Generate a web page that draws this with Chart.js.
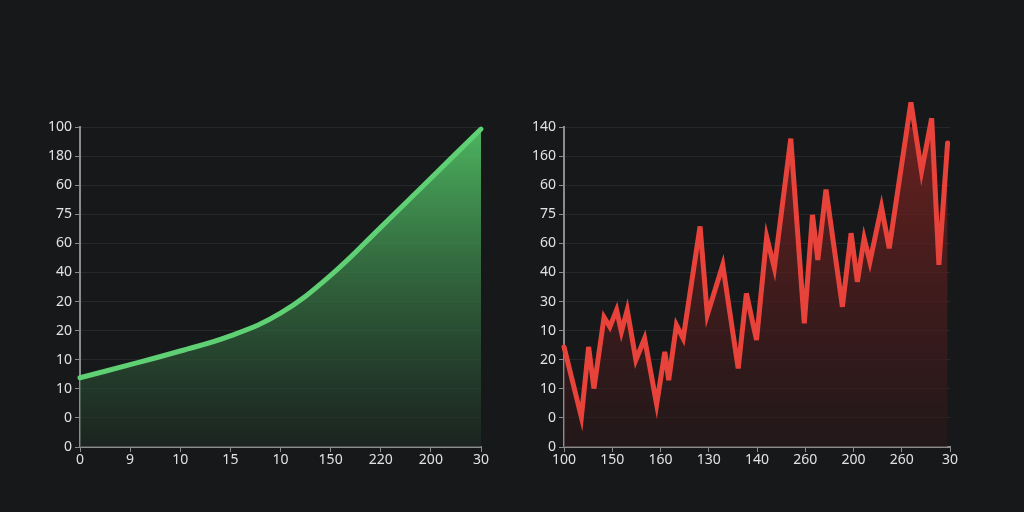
<!DOCTYPE html>
<html>
<head>
<meta charset="utf-8">
<script src="https://cdn.jsdelivr.net/npm/chart.js@4/dist/chart.umd.min.js"></script>
<style>
  html, body { margin: 0; padding: 0; background: #17181a; }
  #wrap { position: relative; width: 1024px; height: 512px; overflow: hidden; }
  canvas { position: absolute; top: 0; }
</style>
</head>
<body>
<div id="wrap">
  <canvas id="leftcanvas" width="512" height="512" style="left:0"></canvas>
  <canvas id="rightcanvas" width="512" height="512" style="left:512px"></canvas>
</div>
<script>
// tick labels (bottom to top for y)
const leftYLabels = ['0', '0', '10', '10', '20', '20', '40', '60', '75', '60', '180', '100'];
const leftXLabels = ['0', '9', '10', '15', '10', '150', '220', '200', '30'];
const rightYLabels = ['0', '0', '10', '20', '10', '30', '40', '60', '75', '60', '160', '140'];
const rightXLabels = ['100', '150', '160', '130', '140', '260', '200', '260', '30'];

// green curve (x = tick slot, y = grid row)
const greenX = [0, 1, 2, 3, 4, 5, 6, 7, 8];
const greenY = [2.38, 2.83, 3.30, 3.82, 4.60, 5.90, 7.55, 9.24, 10.93];

// red zigzag
const redX = [0, 0.36, 0.51, 0.62, 0.83, 0.95, 1.09, 1.19, 1.31, 1.49, 1.67, 1.92, 2.09, 2.17,
  2.33, 2.47, 2.82, 2.97, 3.29, 3.61, 3.78, 3.99, 4.20, 4.36, 4.70, 4.98, 5.15, 5.26, 5.43,
  5.77, 5.95, 6.08, 6.22, 6.34, 6.58, 6.74, 7.19, 7.41, 7.62, 7.77, 7.95];
const redY = [3.44, 1.03, 3.44, 2.01, 4.46, 4.13, 4.71, 3.96, 4.71, 2.99, 3.73, 1.47, 3.27, 2.30,
  4.19, 3.73, 7.58, 4.54, 6.26, 2.70, 5.28, 3.68, 7.23, 6.15, 10.6, 4.25, 7.98, 6.43, 8.85,
  4.82, 7.35, 5.68, 7.18, 6.37, 8.25, 6.83, 11.85, 9.47, 11.3, 6.26, 10.45];

const tickFont = { family: 'Noto Sans', size: 14 };

// keep sharp corners from shooting out too far
const miterPlugin = {
  id: 'miter',
  beforeDatasetsDraw(chart) { chart.ctx.miterLimit = 6; }
};

function gradientFill(top, bottom) {
  return function (ctx) {
    const area = ctx.chart.chartArea;
    if (!area) return top;
    const g = ctx.chart.ctx.createLinearGradient(0, area.top, 0, area.bottom);
    g.addColorStop(0, top);
    g.addColorStop(1, bottom);
    return g;
  };
}

function makeChart(id, xs, ys, xLabels, yLabels, opts) {
  const points = xs.map((x, i) => ({ x: x, y: ys[i] }));
  return new Chart(document.getElementById(id).getContext('2d'), {
    type: 'line',
    data: {
      datasets: [{
        data: points,
        borderColor: opts.line,
        borderWidth: opts.width,
        backgroundColor: gradientFill(opts.fillTop, opts.fillBottom),
        fill: 'origin',
        pointRadius: 0,
        tension: opts.tension,
        borderJoinStyle: 'miter',
        borderCapStyle: 'round',
        clip: false
      }]
    },
    plugins: [miterPlugin],
    options: {
      responsive: false,
      animation: false,
      layout: { padding: { left: 0, right: opts.padRight, top: 127, bottom: 35 } },
      plugins: { legend: { display: false }, tooltip: { enabled: false } },
      scales: {
        x: {
          type: 'linear', min: 0, max: 8,
          afterFit: s => { s.height = 30; },
          grid: { display: true, drawOnChartArea: false, drawTicks: true, tickLength: 5, color: '#8a8c8e' },
          border: { color: '#8a8c8e', width: 2 },
          ticks: {
            stepSize: 1, color: '#e2e2e2', font: tickFont, padding: 0, maxRotation: 0,
            callback: v => xLabels[v]
          }
        },
        y: {
          type: 'linear', min: 0, max: 11,
          afterFit: s => { s.width = opts.yWidth; },
          grid: { color: '#26282b', tickLength: 5, tickColor: '#8a8c8e', lineWidth: 1 },
          border: { color: '#8a8c8e', width: 2 },
          ticks: {
            stepSize: 1, color: '#e2e2e2', font: tickFont, padding: 3,
            callback: v => yLabels[v]
          }
        }
      }
    }
  });
}

makeChart('leftcanvas', greenX, greenY, leftXLabels, leftYLabels, {
  line: '#5fd074', width: 5, tension: 0.4,
  fillTop: 'rgba(80, 190, 100, 0.95)', fillBottom: 'rgba(30, 44, 36, 0.6)',
  padRight: 31, yWidth: 80
});

makeChart('rightcanvas', redX, redY, rightXLabels, rightYLabels, {
  line: '#e8433a', width: 5, tension: 0,
  fillTop: 'rgba(120, 35, 33, 0.85)', fillBottom: 'rgba(42, 24, 26, 0.6)',
  padRight: 74, yWidth: 52
});
</script>
</body>
</html>
